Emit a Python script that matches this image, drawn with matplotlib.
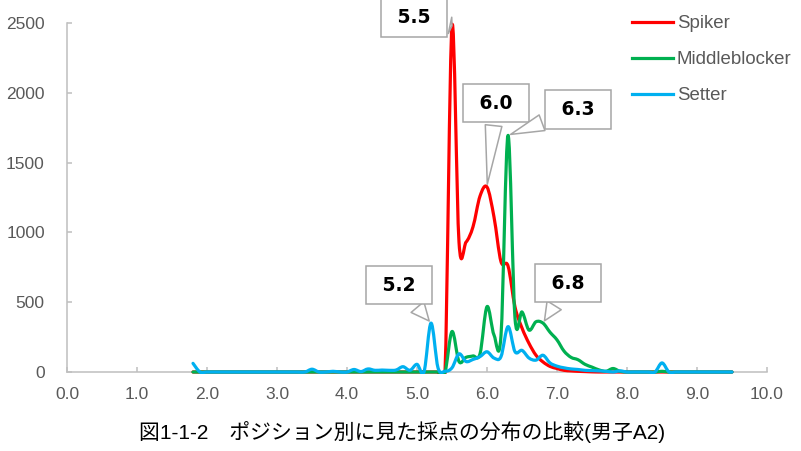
import matplotlib
matplotlib.use('Agg')
from matplotlib import pyplot as plt
from matplotlib.path import Path
from matplotlib.patches import PathPatch, Rectangle
from matplotlib.lines import Line2D

# score axis (1.8 .. 9.5, step 0.1)
scores = [1.8, 1.9,
          2.0, 2.1, 2.2, 2.3, 2.4, 2.5, 2.6, 2.7, 2.8, 2.9,
          3.0, 3.1, 3.2, 3.3, 3.4, 3.5, 3.6, 3.7, 3.8, 3.9,
          4.0, 4.1, 4.2, 4.3, 4.4, 4.5, 4.6, 4.7, 4.8, 4.9,
          5.0, 5.1, 5.2, 5.3, 5.4, 5.5, 5.6, 5.7, 5.8, 5.9,
          6.0, 6.1, 6.2, 6.3, 6.4, 6.5, 6.6, 6.7, 6.8, 6.9,
          7.0, 7.1, 7.2, 7.3, 7.4, 7.5, 7.6, 7.7, 7.8, 7.9,
          8.0, 8.1, 8.2, 8.3, 8.4, 8.5, 8.6, 8.7, 8.8, 8.9,
          9.0, 9.1, 9.2, 9.3, 9.4, 9.5]

spiker = [0, 0,
          0, 0, 0, 0, 0, 0, 0, 0, 0, 0,
          0, 0, 0, 0, 0, 0, 0, 0, 0, 0,
          0, 0, 0, 0, 0, 0, 0, 0, 0, 0,
          0, 0, 0, 0, 0, 2480, 930, 930, 1040, 1260,
          1325, 1110, 790, 760, 466, 315, 205, 120, 72, 40,
          25, 12, 8, 5, 3, 1, 0, 0, 0, 0,
          0, 0, 0, 0, 0, 0, 0, 0, 0, 0,
          0, 0, 0, 0, 0, 0]

middleblocker = [0, 0,
                 0, 0, 0, 0, 0, 0, 0, 0, 0, 0,
                 0, 0, 0, 0, 0, 0, 0, 0, 0, 0,
                 0, 0, 0, 0, 0, 0, 0, 0, 0, 0,
                 0, 0, 0, 0, 0, 290, 75, 105, 115, 130,
                 468, 265, 262, 1695, 385, 430, 300, 360, 350, 285,
                 230, 150, 105, 88, 55, 35, 15, 5, 25, 5,
                 0, 0, 0, 0, 0, 5, 0, 0, 0, 0,
                 0, 0, 0, 0, 0, 0]

setter = [62, 0,
          0, 0, 0, 0, 0, 0, 0, 0, 0, 0,
          0, 0, 0, 0, 0, 20, 0, 0, 5, 0,
          0, 18, 3, 22, 12, 14, 12, 14, 38, 12,
          55, 0, 350, 30, 5, 30, 130, 75, 90, 110,
          145, 100, 110, 325, 145, 155, 100, 85, 120, 65,
          42, 30, 22, 18, 12, 10, 8, 5, 0, 8,
          0, 0, 0, 0, 0, 65, 0, 0, 0, 0,
          0, 0, 0, 0, 0, 0]

series_names = ['Spiker', 'Middleblocker', 'Setter']
series_colors = ['#FF0000', '#00B050', '#00B0F0']

# callouts: (series index, score, label, offset in pixels of box centre)
callouts = [
    (0, 5.5, '5.5', (-38, 8)),
    (0, 6.0, '6.0', (9, 84)),
    (1, 6.3, '6.3', (70, 26)),
    (2, 5.2, '5.2', (-32, 38)),
    (1, 6.8, '6.8', (25, 40)),
]

title = '図1-1-2\u3000ポジション別に見た採点の分布の比較(男子A2)'


def smooth_path(xs, ys):
    """Excel-like smoothed line: cubic Bezier through every point."""
    pts = list(zip(xs, ys))
    n = len(pts)
    verts = [pts[0]]
    codes = [Path.MOVETO]
    for i in range(n - 1):
        p0 = pts[i - 1] if i > 0 else pts[i]
        p1 = pts[i]
        p2 = pts[i + 1]
        p3 = pts[i + 2] if i + 2 < n else pts[i + 1]
        c1 = (p1[0] + (p2[0] - p0[0]) / 6, p1[1] + (p2[1] - p0[1]) / 6)
        c2 = (p2[0] - (p3[0] - p1[0]) / 6, p2[1] - (p3[1] - p1[1]) / 6)
        verts += [c1, c2, p2]
        codes += [Path.CURVE4] * 3
    return Path(verts, codes)


fig = plt.figure(figsize=(8.01, 4.51), dpi=100)
ax = fig.add_axes([67 / 801, 1 - 372 / 451, 700 / 801, 349 / 451])

ax.set_xlim(0, 10)
ax.set_ylim(0, 2500)

clip = Rectangle((0, -0.006), 1, 1.012, transform=ax.transAxes,
                 facecolor='none', edgecolor='none')
ax.add_patch(clip)

for values, name, color in zip([spiker, middleblocker, setter], series_names, series_colors):
    patch = PathPatch(smooth_path(scores, values), facecolor='none', edgecolor=color,
                      linewidth=2.3, capstyle='round', joinstyle='round', zorder=3)
    ax.add_patch(patch)
    patch.set_clip_path(clip)

all_series = [spiker, middleblocker, setter]
for idx, score, label, offset in callouts:
    value = all_series[idx][scores.index(score)]
    ax.annotate(' ' + label + ' ', xy=(score, value), xytext=offset,
                textcoords='offset pixels', ha='center', va='center',
                fontsize=13.5, fontweight='bold', family='DejaVu Sans', color='black',
                bbox=dict(boxstyle='square,pad=0.52', facecolor='white',
                          edgecolor='#A6A6A6', linewidth=1.1),
                arrowprops=dict(arrowstyle='wedge,tail_width=0.6,shrink_factor=0.5',
                                mutation_scale=20, facecolor='white',
                                edgecolor='#A6A6A6', linewidth=1.1, shrinkB=2),
                zorder=6, annotation_clip=False)

for side in ['top', 'right']:
    ax.spines[side].set_visible(False)
for side in ['left', 'bottom']:
    ax.spines[side].set_color('#BFBFBF')
    ax.spines[side].set_linewidth(1.1)

ax.set_xticks([0, 1, 2, 3, 4, 5, 6, 7, 8, 9, 10])
ax.set_xticklabels(['0.0', '1.0', '2.0', '3.0', '4.0', '5.0', '6.0', '7.0', '8.0', '9.0', '10.0'])
ax.set_yticks([0, 500, 1000, 1500, 2000, 2500])
ax.tick_params(axis='both', direction='in', length=3.6, width=1.1, color='#BFBFBF',
               labelcolor='#595959', labelsize=12.5)
ax.tick_params(axis='y', pad=16)
ax.tick_params(axis='x', pad=10.5)
for lbl in ax.get_xticklabels() + ax.get_yticklabels():
    lbl.set_family('Liberation Sans')

handles = [Line2D([], [], color=c, linewidth=2.3) for c in series_colors]
leg = fig.legend(handles, series_names, loc='upper left',
                 bbox_to_anchor=(632 / 801, 1 - 15 / 451), bbox_transform=fig.transFigure,
                 frameon=False, borderpad=0, borderaxespad=0, handlelength=2.2,
                 handletextpad=0.2, labelspacing=1.02,
                 prop={'family': 'Liberation Sans', 'size': 13.4})
for t in leg.get_texts():
    t.set_color('#595959')

fig.text(402 / 801, 1 - 432 / 451, title, ha='center', va='center', fontsize=15,
         family=['Liberation Sans', 'Noto Sans CJK JP'], color='black')

fig.savefig('out.png', dpi=100)
